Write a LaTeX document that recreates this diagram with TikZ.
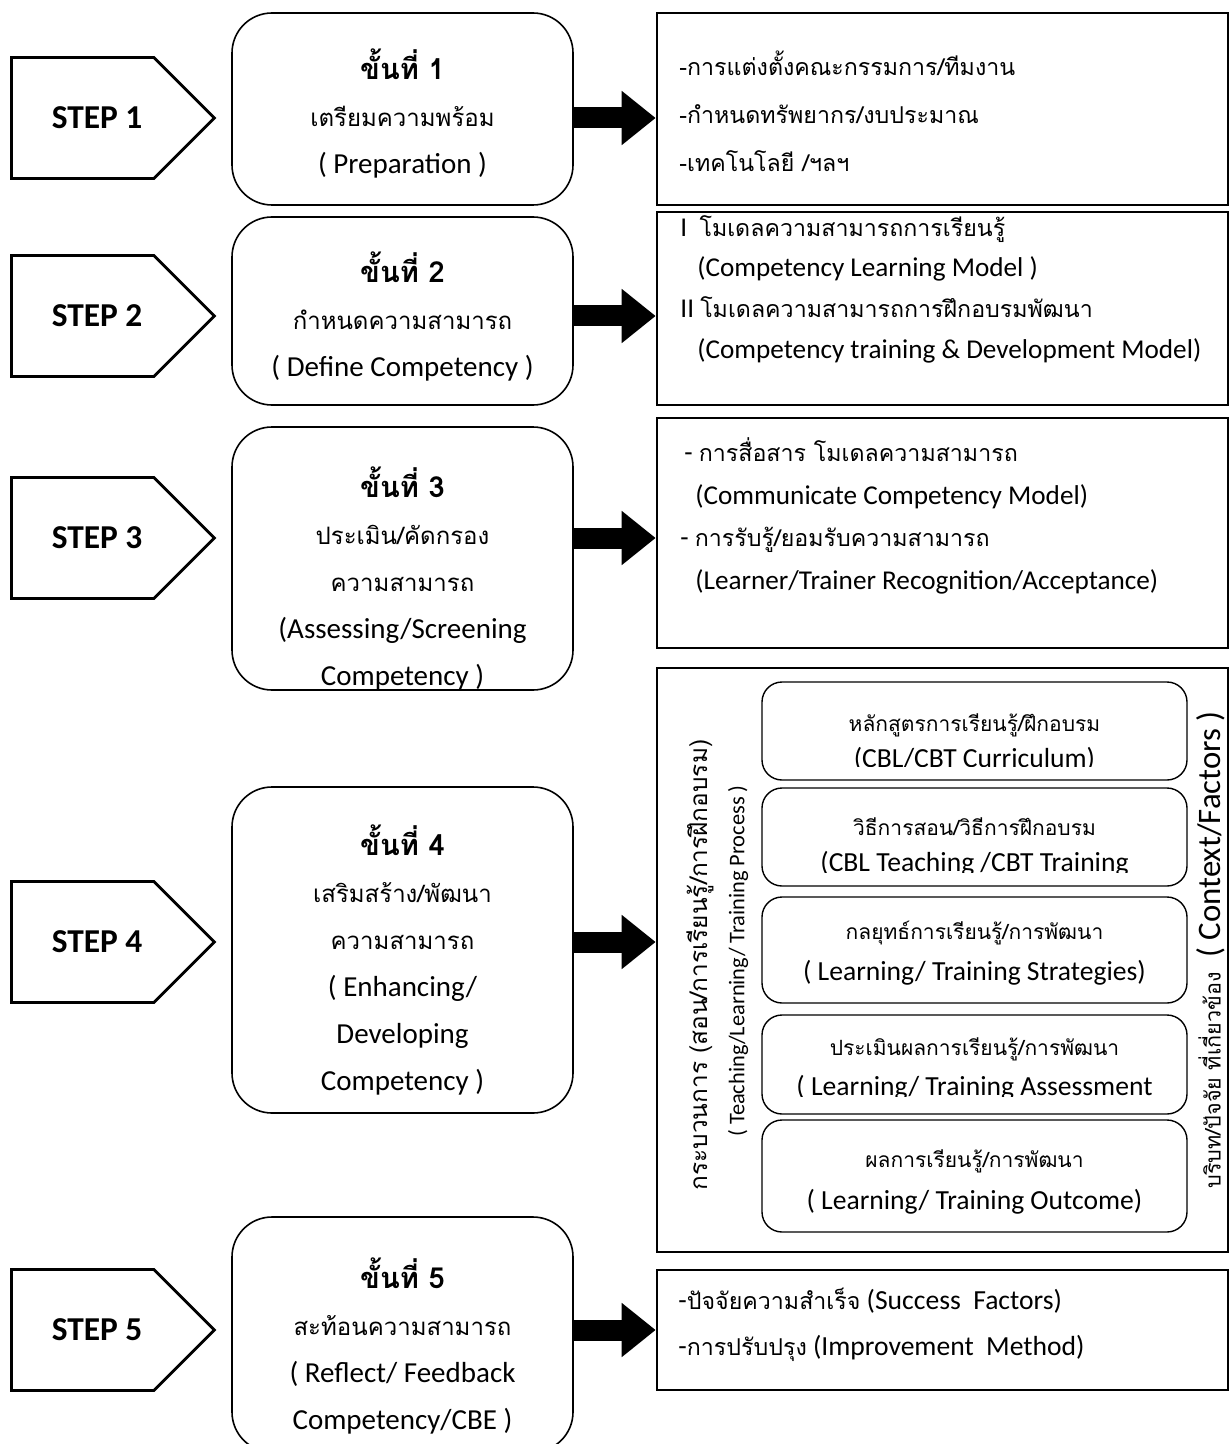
\documentclass[tikz,border=0pt]{standalone}
\usepackage{fontspec}
\setmainfont{Carlito}
\newfontfamily\thai[Script=Thai]{Loma}
\newcommand{\thaisz}[2]{{\fontsize{#1}{#1}\selectfont\thai #2}}
\usepackage{tikz}
\usetikzlibrary{shapes.symbols,arrows.meta}

\tikzset{
  stepsign/.style={draw, line width=1.4pt, signal, signal to=east, signal pointer angle=90,
    minimum width=101.5pt, minimum height=60.5pt, inner sep=0pt,
    font=\fontsize{16.7pt}{18pt}\selectfont\bfseries, execute at begin node={\hspace*{14.5pt}}},
  stagebox/.style={draw, line width=0.8pt, rounded corners=20pt, minimum width=170.5pt, inner sep=0pt},
  infobox/.style={draw, line width=1.3pt, minimum width=285.5pt, inner sep=0pt},
  subbox/.style={draw, line width=0.7pt, rounded corners=10pt, minimum width=212.5pt, inner sep=0pt},
  bigarrow/.style={line width=10.5pt, -{Triangle[length=17pt,width=26pt]}},
  txt/.style={inner sep=0pt, font=\fontsize{13.6pt}{23.5pt}\selectfont},
  stagetxt/.style={inner sep=0pt, align=center, font=\fontsize{14.5pt}{23.5pt}\selectfont},
  subtxt/.style={inner sep=0pt, align=center, font=\fontsize{13.8pt}{20pt}\selectfont},
}

\begin{document}
\begin{tikzpicture}[x=0.5pt,y=-0.5pt]
\useasboundingbox (0,0) rectangle (1230,1444);

% steps on the left
\node[stepsign, anchor=west] (s1) at (10,118) {STEP 1};
\node[stepsign, anchor=west] (s2) at (10,316) {STEP 2};
\node[stepsign, anchor=west] (s3) at (10,538) {STEP 3};
\node[stepsign, anchor=west] (s4) at (10,942) {STEP 4};
\node[stepsign, anchor=west] (s5) at (10,1330) {STEP 5};

% stage boxes
\node[stagebox, minimum height=96pt] (k1) at (402.5,109) {};
\node[stagebox, minimum height=94pt] (k2) at (402.5,311) {};
\node[stagebox, minimum height=131.5pt] (k3) at (402.5,558.5) {};
\node[stagebox, minimum height=163pt] (k4) at (402.5,950) {};
\node[stagebox, minimum height=117.5pt] (k5) at (402.5,1334.5) {};

\node[stagetxt] (t1) at (402.5,113) {{\thai\bfseries ขั้นที่ 1}\\\thaisz{12pt}{เตรียมความพร้อม}\\( Preparation )};
\node[stagetxt] (t2) at (402.5,316) {{\thai\bfseries ขั้นที่ 2}\\\thaisz{12pt}{กำหนดความสามารถ}\\( Define Competency )};
\node[stagetxt] (t3) at (402.5,578) {{\thai\bfseries ขั้นที่ 3}\\\thaisz{12pt}{ประเมิน/คัดกรอง}\\\thaisz{12pt}{ความสามารถ}\\(Assessing/Screening\\Competency )};
\node[stagetxt] (t4) at (402.5,960) {{\thai\bfseries ขั้นที่ 4}\\\thaisz{12pt}{เสริมสร้าง/พัฒนา}\\\thaisz{12pt}{ความสามารถ}\\( Enhancing/\\Developing\\Competency )};
\node[stagetxt] (t5) at (402.5,1346) {{\thai\bfseries ขั้นที่ 5}\\\thaisz{12pt}{สะท้อนความสามารถ}\\( Reflect/ Feedback\\Competency/CBE )};

% boxes on the right
\node[infobox, minimum height=96pt] (r1) at (942.5,109) {};
\node[infobox, minimum height=96.5pt] (r2) at (942.5,308.5) {};
\node[infobox, minimum height=115pt] (r3) at (942.5,533) {};
\node[infobox, minimum height=292pt] (r4) at (942.5,960) {};
\node[infobox, minimum height=60pt] (r5) at (942.5,1330) {};

\node[txt, anchor=west, align=left, font=\fontsize{11.6pt}{24pt}\selectfont\thai] (d1) at (679,111)
  {-การแต่งตั้งคณะกรรมการ/ทีมงาน\\-กำหนดทรัพยากร/งบประมาณ\\-เทคโนโลยี /ฯลฯ};
\node[txt, anchor=west, align=left, font=\fontsize{13.6pt}{20.3pt}\selectfont] (d2) at (680,289)
  {I\ \ \thaisz{11.6pt}{โมเดลความสามารถการเรียนรู้}\\\hspace*{8.5pt}(Competency Learning Model )\\II \thaisz{11.6pt}{โมเดลความสามารถการฝึกอบรมพัฒนา}\\\hspace*{8.5pt}(Competency training \& Development Model)};
\node[txt, anchor=west, align=left, font=\fontsize{13.6pt}{21.3pt}\selectfont] (d3) at (680,516)
  {\hspace*{2pt}- \thaisz{11.6pt}{การสื่อสาร โมเดลความสามารถ}\\\hspace*{7.5pt}(Communicate Competency Model)\\- \thaisz{11.6pt}{การรับรู้/ยอมรับความสามารถ}\\\hspace*{7.5pt}(Learner/Trainer Recognition/Acceptance)};
\node[txt, anchor=west, align=left, font=\fontsize{13.8pt}{23pt}\selectfont] (d5) at (678,1325)
  {-\thaisz{11.6pt}{ปัจจัยความสำเร็จ} (Success\ \ Factors)\\-\thaisz{11.6pt}{การปรับปรุง} (Improvement\ \ Method)};

% inner process boxes
\node[subbox, minimum height=49pt] (p1) at (974.5,731) {};
\node[subbox, minimum height=49pt] (p2) at (974.5,837) {};
\node[subbox, minimum height=53pt] (p3) at (974.5,950) {};
\node[subbox, minimum height=49.5pt] (p4) at (974.5,1064.5) {};
\node[subbox, minimum height=56pt] (p5) at (974.5,1176) {};

\begin{scope}
\clip (p1.north west) rectangle ([yshift=7pt]p1.south east);
\node[subtxt, font=\fontsize{13.8pt}{18pt}\selectfont] (c1) at (974.5,743) {\thaisz{10.5pt}{หลักสูตรการเรียนรู้/ฝึกอบรม}\\(CBL/CBT Curriculum)};
\end{scope}
\begin{scope}
\clip (p2.north west) rectangle ([yshift=7pt]p2.south east);
\node[subtxt, font=\fontsize{13.8pt}{18pt}\selectfont] (c2) at (974.5,847) {\thaisz{10.5pt}{วิธีการสอน/วิธีการฝึกอบรม}\\(CBL Teaching /CBT Training};
\end{scope}
\node[subtxt, font=\fontsize{13.8pt}{20.5pt}\selectfont] (c3) at (974.5,953) {\thaisz{10.5pt}{กลยุทธ์การเรียนรู้/การพัฒนา}\\( Learning/ Training Strategies)};
\begin{scope}
\clip (p4.north west) rectangle ([yshift=9pt]p4.south east);
\node[subtxt] (c4) at (974.5,1069) {\thaisz{10.5pt}{ประเมินผลการเรียนรู้/การพัฒนา}\\( Learning/ Training Assessment};
\end{scope}
\node[subtxt, font=\fontsize{13.8pt}{21pt}\selectfont] (c5) at (974.5,1182) {\thaisz{10.5pt}{ผลการเรียนรู้/การพัฒนา}\\( Learning/ Training Outcome)};

% side labels
\node[txt, rotate=90] (lp) at (700,965) {\thaisz{12.2pt}{กระบวนการ (สอน/การเรียนรู้/การฝึกอบรม)}};
\node[txt, rotate=90, font=\fontsize{11.2pt}{13pt}\selectfont] (lpe) at (738,961) {( Teaching/Learning/ Training Process )};
\node[txt, rotate=90, font=\fontsize{16.4pt}{18pt}\selectfont] (ctx) at (1211,950) {\thaisz{10.8pt}{บริบท/ปัจจัย ที่เกี่ยวข้อง}\ \ ( Context/Factors )};

% arrows
\draw[bigarrow] (k1.east |- s1) -- (r1.west |- s1);
\draw[bigarrow] (k2.east |- s2) -- (r2.west |- s2);
\draw[bigarrow] (k3.east |- s3) -- (r3.west |- s3);
\draw[bigarrow] (k4.east |- s4) -- (r4.west |- s4);
\draw[bigarrow] (k5.east |- s5) -- (r5.west |- s5);
\end{tikzpicture}
\end{document}
